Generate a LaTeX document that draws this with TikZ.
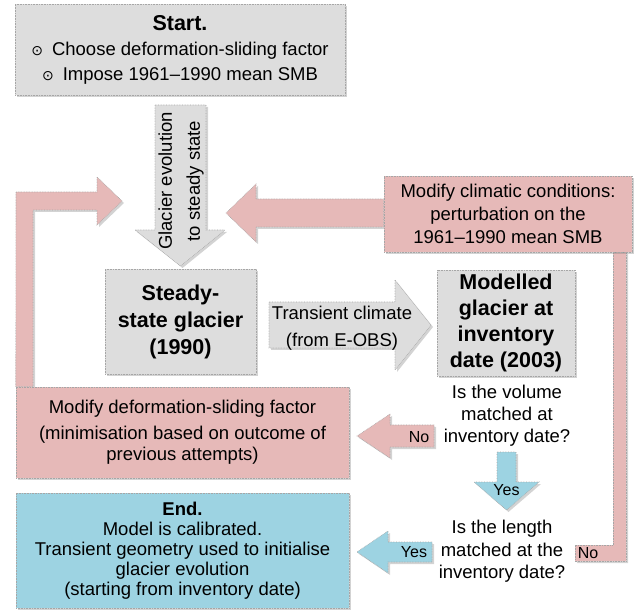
\documentclass[tikz,border=0pt]{standalone}
\usepackage{fontspec}
\setmainfont{Liberation Sans}
\newfontfamily\symfont{DejaVu Sans}
\usetikzlibrary{shadows,backgrounds}

\definecolor{flowGrey}{HTML}{DDDDDD}
\definecolor{flowPink}{HTML}{E6B9B8}
\definecolor{flowBlue}{HTML}{9DD3E2}
\definecolor{flowEdge}{HTML}{A6A6A6}
\newcommand{\circbul}{{\symfont\fontsize{14}{14}\selectfont ⊙}\hspace{9pt}}

\begin{document}
\begin{tikzpicture}[x=1pt,y=-1pt,
  flowbox/.style={draw=flowEdge,densely dotted,line width=0.6pt,
    drop shadow={shadow xshift=2pt,shadow yshift=-2pt,opacity=.35},
    align=center,inner sep=0pt},
  greybox/.style={flowbox,fill=flowGrey},
  pinkbox/.style={flowbox,fill=flowPink},
  bluebox/.style={flowbox,fill=flowBlue},
  qtext/.style={font=\fontsize{18.5}{22}\selectfont,align=center,inner sep=0pt},
  bigtxt/.style={font=\fontsize{21.5}{27}\selectfont\bfseries},
  armlabel/.style={font=\fontsize{16}{16}\selectfont,inner sep=0pt}]
  \useasboundingbox (0,0) rectangle (635,612);

  % boxes
  \node[greybox,minimum width=330pt,minimum height=91pt,
    font=\fontsize{18.5}{25}\selectfont] (start) at (180,49.5)
    {{\fontsize{21.5}{25}\selectfont\bfseries Start.}\\
     \circbul Choose deformation-sliding factor\\
     \circbul Impose 1961--1990 mean SMB};
  \node[greybox,bigtxt,minimum width=151pt,minimum height=105pt] (steady) at (180.5,321.5)
    {Steady-\\state glacier\\(1990)};
  \node[greybox,font=\fontsize{21.5}{26}\selectfont\bfseries,
    minimum width=138pt,minimum height=106pt] (model) at (506,323)
    {Modelled\\glacier at\\inventory\\date (2003)};
  \node[pinkbox,font=\fontsize{18.5}{23}\selectfont,
    minimum width=248pt,minimum height=76pt] (clim) at (508,214)
    {Modify climatic conditions:\\perturbation on the\\1961--1990 mean SMB};
  \node[pinkbox,font=\fontsize{18.5}{21}\selectfont,
    minimum width=333pt,minimum height=91pt] (deform) at (182.5,432.5)
    {Modify deformation-sliding factor\\[5pt]
     (minimisation based on outcome of\\previous attempts)};
  \node[bluebox,font=\fontsize{18.5}{20}\selectfont,
    minimum width=333pt,minimum height=115pt] (finish) at (182.5,550.5)
    {\textbf{End.}\\Model is calibrated.\\Transient geometry used to initialise\\
     glacier evolution\\(starting from inventory date)};

  % questions
  \node[qtext] (qvol) at (507,416) {Is the volume\\matched at\\inventory date?};
  \node[qtext,font=\fontsize{18.5}{22.5}\selectfont] (qlen) at (502,551.5)
    {Is the length\\matched at the\\inventory date?};

  % arrow texts
  \node[qtext,rotate=90,font=\fontsize{18.5}{28}\selectfont] (evo) at (181,181)
    {Glacier evolution\\to steady state};
  \node[qtext,font=\fontsize{18.5}{27}\selectfont] (trans) at (342,328)
    {Transient climate\\(from E-OBS)};
  \node[armlabel] (tno1) at (419,437) {No};
  \node[armlabel] (tyes1) at (506.5,490) {Yes};
  \node[armlabel] (tyes2) at (414,552) {Yes};
  \node[armlabel] (tno2) at (588,553) {No};

  % block arrows
  \begin{scope}[on background layer]
    \filldraw[greybox] (155,105) -- (206,105) -- (206,230) -- (225,230)
      -- (steady.north |- 0,266) -- (135,230) -- (155,230) -- cycle;
    \filldraw[pinkbox] (clim.west |- 0,199) -- (256,199) -- (256,184) -- (226,213)
      -- (256,242) -- (256,227) -- (clim.west |- 0,227) -- cycle;
    \filldraw[pinkbox] (deform.north west) -- (16,192) -- (97,192) -- (97,177)
      -- (122,201) -- (97,225) -- (97,210) -- (33,210) -- (deform.north -| 33,0) -- cycle;
    \filldraw[greybox] (269,302) -- (395,302) -- (395,280) -- (431,325)
      -- (395,370) -- (395,348) -- (269,348) -- cycle;
    \filldraw[pinkbox] (613,252) -- (626,252) -- (626,561) -- (575,561)
      -- (575,545) -- (613,545) -- cycle;
    \filldraw[pinkbox] (434,425) -- (390,425) -- (390,414) -- (357,436)
      -- (390,458) -- (390,447) -- (434,447) -- cycle;
    \filldraw[bluebox] (497,452) -- (516,452) -- (516,482) -- (539,482)
      -- (506.5,510) -- (474,482) -- (497,482) -- cycle;
    \filldraw[bluebox] (432,542) -- (388,542) -- (388,531) -- (357,552)
      -- (388,573) -- (388,562) -- (432,562) -- cycle;
  \end{scope}
\end{tikzpicture}
\end{document}
